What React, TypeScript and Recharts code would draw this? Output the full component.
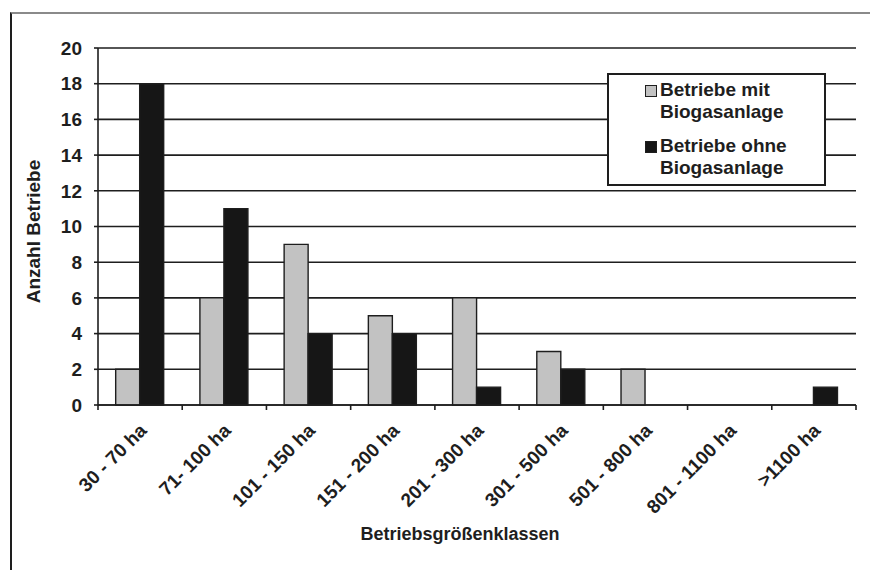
import React from "react";
import {
  Bar,
  BarChart,
  CartesianGrid,
  Legend,
  XAxis,
  YAxis,
} from "recharts";

const categories = [
  "30 - 70 ha",
  "71- 100 ha",
  "101 - 150 ha",
  "151 - 200 ha",
  "201 - 300 ha",
  "301 - 500 ha",
  "501 - 800 ha",
  "801 - 1100 ha",
  ">1100 ha",
];
const mitBiogas = [2, 6, 9, 5, 6, 3, 2, 0, 0];
const ohneBiogas = [18, 11, 4, 4, 1, 2, 0, 0, 1];
const yTicks = [0, 2, 4, 6, 8, 10, 12, 14, 16, 18, 20];

const data = categories.map((label, i) => ({
  label,
  mit: mitBiogas[i],
  ohne: ohneBiogas[i],
}));

const FONT = "'Liberation Sans', Arial, sans-serif";
const INK = "#1e1e1e";
const GREY = "#c2c2c2";
const DARK = "#161616";

// category label rotated, plus tick marks on the category boundaries
function CategoryTick({ x, y, payload, index, width, visibleTicksCount }: any) {
  const band = width / visibleTicksCount;
  const last = index === visibleTicksCount - 1;
  return (
    <g>
      <line x1={x - band / 2} x2={x - band / 2} y1={y} y2={y + 5} stroke={INK} strokeWidth={1.6} />
      {last && (
        <line x1={x + band / 2} x2={x + band / 2} y1={y} y2={y + 5} stroke={INK} strokeWidth={1.6} />
      )}
      <g transform={`translate(${x + 3},${y + 22})`}>
        <text
          x={0}
          y={0}
          dy="0.35em"
          textAnchor="end"
          transform="rotate(-45)"
          fontFamily={FONT}
          fontWeight="bold"
          fontSize={19}
          fill={INK}
        >
          {payload.value}
        </text>
      </g>
    </g>
  );
}

function LegendBox() {
  const items = [
    { color: GREY, lines: ["Betriebe mit", "Biogasanlage"] },
    { color: DARK, lines: ["Betriebe ohne", "Biogasanlage"] },
  ];
  return (
    <div
      style={{
        width: 219,
        height: 113,
        border: `2px solid ${INK}`,
        background: "#fff",
        boxSizing: "border-box",
        padding: "4px 0 0 51px",
        fontFamily: FONT,
        fontWeight: "bold",
        fontSize: 19,
        color: INK,
        lineHeight: "22px",
      }}
    >
      {items.map((it, i) => (
        <div key={i} style={{ position: "relative", marginBottom: i === 0 ? 12 : 0 }}>
          <span
            style={{
              position: "absolute",
              left: -15,
              top: 6,
              width: 10,
              height: 10,
              background: it.color,
              border: `1px solid ${INK}`,
            }}
          />
          {it.lines.map((l, j) => (
            <div key={j}>{l}</div>
          ))}
        </div>
      ))}
    </div>
  );
}

export default function App() {
  return (
    <div
      style={{
        position: "absolute",
        left: 0,
        top: 0,
        width: 870,
        height: 570,
        background: "#fff",
        overflow: "hidden",
      }}
    >
      <div
        style={{
          position: "absolute",
          left: 10,
          top: 12,
          width: 870,
          height: 570,
          borderTop: "2px solid #8a8a8a",
          borderLeft: `2px solid ${INK}`,
        }}
      />
      <div style={{ position: "absolute", left: 0, top: 0 }}>
        <BarChart
          width={870}
          height={570}
          data={data}
          margin={{ top: 48, right: 14, bottom: 25, left: 0 }}
          barCategoryGap="21%"
          barGap={0}
        >
          <CartesianGrid horizontal vertical={false} stroke={INK} strokeWidth={1.6} />
          <XAxis
            dataKey="label"
            height={140}
            interval={0}
            tickLine={false}
            tickSize={0}
            tickMargin={0}
            axisLine={{ stroke: INK, strokeWidth: 1.6 }}
            tick={<CategoryTick />}
            label={({ viewBox }: any) => (
              <text
                x={viewBox.x + viewBox.width / 2 - 17}
                y={viewBox.y + viewBox.height - 5}
                textAnchor="middle"
                fontFamily={FONT}
                fontWeight="bold"
                fontSize={18}
                fill={INK}
              >
                Betriebsgrößenklassen
              </text>
            )}
          />
          <YAxis
            width={98}
            domain={[0, 20]}
            ticks={yTicks}
            interval={0}
            axisLine={{ stroke: INK, strokeWidth: 1.6 }}
            tickLine={{ stroke: INK, strokeWidth: 1.6 }}
            tickSize={4}
            tickMargin={12}
            tick={{ fontFamily: FONT, fontWeight: "bold", fontSize: 19, fill: INK }}
            label={({ viewBox }: any) => (
              <text
                x={viewBox.x + 40}
                y={viewBox.y + viewBox.height / 2 + 5}
                transform={`rotate(-90 ${viewBox.x + 40} ${viewBox.y + viewBox.height / 2 + 5})`}
                textAnchor="middle"
                fontFamily={FONT}
                fontWeight="bold"
                fontSize={19}
                fill={INK}
              >
                Anzahl Betriebe
              </text>
            )}
          />
          <YAxis
            yAxisId="frame"
            orientation="right"
            width={0}
            domain={[0, 20]}
            tick={false}
            tickLine={false}
            axisLine={{ stroke: INK, strokeWidth: 1.6 }}
          />
          <Legend
            layout="horizontal"
            verticalAlign="middle"
            align="center"
            wrapperStyle={{ top: 73, left: 607, width: 219 }}
            content={() => <LegendBox />}
          />
          <Bar
            dataKey="mit"
            name="Betriebe mit Biogasanlage"
            fill={GREY}
            stroke={INK}
            strokeWidth={1.4}
            isAnimationActive={false}
          />
          <Bar
            dataKey="ohne"
            name="Betriebe ohne Biogasanlage"
            fill={DARK}
            stroke={INK}
            strokeWidth={1.4}
            isAnimationActive={false}
          />
        </BarChart>
      </div>
    </div>
  );
}
